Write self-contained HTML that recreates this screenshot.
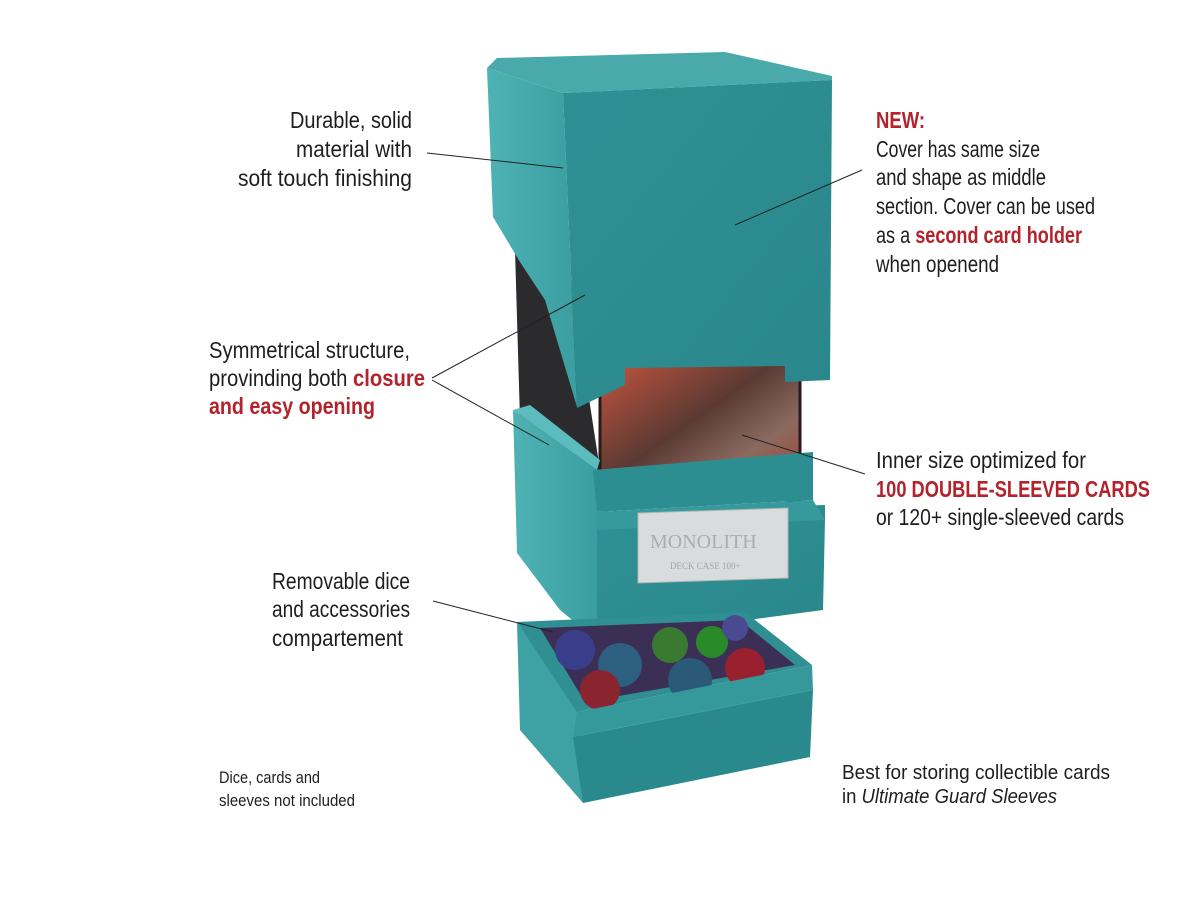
<!DOCTYPE html>
<html><head><meta charset="utf-8"><style>
html,body{margin:0;padding:0;background:#fff;}
svg{display:block;}
text{font-family:"Liberation Sans Narrow","Liberation Sans",sans-serif;fill:#1e1e1e;}
.r{fill:#b3232c;font-weight:bold;}
</style></head><body>
<svg width="1200" height="900" viewBox="0 0 1200 900" xmlns="http://www.w3.org/2000/svg">
<defs>
<linearGradient id="side" x1="0" y1="0" x2="1" y2="0"><stop offset="0" stop-color="#4fb3b5"/><stop offset="1" stop-color="#3a9ea1"/></linearGradient>
<linearGradient id="front" x1="0" y1="0" x2="1" y2="1"><stop offset="0" stop-color="#2f9195"/><stop offset="1" stop-color="#2a878b"/></linearGradient>
<linearGradient id="card" x1="0" y1="0" x2="1" y2="1"><stop offset="0" stop-color="#c8543e"/><stop offset="0.45" stop-color="#5a3a33"/><stop offset="0.7" stop-color="#8a6a60"/><stop offset="1" stop-color="#b03a30"/></linearGradient>
</defs>

<polygon points="515,250 568,262 600,470 560,470 520,420" fill="#2b2b2e"/>
<rect x="600" y="360" width="200" height="140" fill="url(#card)"/>
<rect x="600" y="360" width="200" height="140" fill="none" stroke="#2a1a1a" stroke-width="3"/>
<text x="722" y="484" style="font-size:10px;fill:#fff;font-weight:bold">18/30 Power</text>

<polygon points="513,410 597,470 597,640 560,610 517,553" fill="url(#side)"/>
<polygon points="513,410 530,405 600,460 597,470" fill="#5cbcbd"/>
<polygon points="593,470 813,452 813,500 597,512" fill="#2d8e92"/>
<polygon points="597,512 825,505 825,520 823,610 597,640" fill="url(#front)"/>
<polygon points="597,512 813,500 825,520 597,530" fill="#36999c"/>
<polygon points="638,513 788,508 788,578 638,583" fill="#d8dcdc" stroke="#aeb4b4"/>
<text x="650" y="548" style="font-size:20px;fill:#a8aeae;font-family:'Liberation Serif',serif">MONOLITH</text>
<text x="670" y="569" style="font-size:9px;fill:#a0a6a6;font-family:'Liberation Serif',serif">DECK CASE 100+</text>

<polygon points="487,68 563,93 577,407 545,300 520,262 493,217" fill="url(#side)"/>
<polygon points="487,68 497,58 725,52 832,76 832,80 563,93" fill="#4aa9ab"/>
<path d="M563,93 L832,80 L830,380 L785,382 L785,366 L625,368 L625,385 L577,408 Z" fill="url(#front)"/>

<polygon points="517,622 579,712 583,803 520,730" fill="#3ea2a5"/>
<polygon points="573,737 813,690 810,757 583,803" fill="#2a898d"/>
<polygon points="517,622 745,612 812,665 577,712" fill="#2f8f93"/>
<polygon points="540,628 740,620 795,665 585,702" fill="#3b2f55"/>
<circle cx="575" cy="650" r="20" fill="#3a3e8a"/>
<circle cx="620" cy="665" r="22" fill="#2d5f80"/>
<circle cx="600" cy="690" r="20" fill="#8a2530"/>
<circle cx="670" cy="645" r="18" fill="#3a7a30"/>
<circle cx="712" cy="642" r="16" fill="#2a8a2a"/>
<circle cx="690" cy="680" r="22" fill="#2a5a78"/>
<circle cx="745" cy="668" r="20" fill="#9a2030"/>
<circle cx="735" cy="628" r="13" fill="#4a4a90"/>
<polygon points="577,712 812,665 813,690 573,737" fill="#35989b"/>

<g stroke="#222" stroke-width="1" fill="none">
<line x1="427" y1="153" x2="563" y2="168"/>
<line x1="862" y1="170" x2="735" y2="225"/>
<line x1="432" y1="378" x2="585" y2="295"/>
<line x1="432" y1="380" x2="549" y2="445"/>
<line x1="865" y1="474" x2="742" y2="435"/>
<line x1="433" y1="601" x2="553" y2="632"/>
</g>

<g style="font-size:23px">
<text x="412" y="128" text-anchor="end" textLength="122" lengthAdjust="spacingAndGlyphs">Durable, solid</text>
<text x="412" y="157" text-anchor="end" textLength="116" lengthAdjust="spacingAndGlyphs">material with</text>
<text x="412" y="186" text-anchor="end" textLength="174" lengthAdjust="spacingAndGlyphs">soft touch finishing</text>
<text x="209" y="358" textLength="201" lengthAdjust="spacingAndGlyphs">Symmetrical structure,</text>
<text x="209" y="386" textLength="216" lengthAdjust="spacingAndGlyphs">provinding both <tspan class="r">closure</tspan></text>
<text x="209" y="414" class="r" textLength="166" lengthAdjust="spacingAndGlyphs">and easy opening</text>
<text x="272" y="589" textLength="138" lengthAdjust="spacingAndGlyphs">Removable dice</text>
<text x="272" y="617" textLength="138" lengthAdjust="spacingAndGlyphs">and accessories</text>
<text x="272" y="646" textLength="131" lengthAdjust="spacingAndGlyphs">compartement</text>

<text x="876" y="128" class="r" textLength="49" lengthAdjust="spacingAndGlyphs">NEW:</text>
<text x="876" y="157" textLength="164" lengthAdjust="spacingAndGlyphs">Cover has same size</text>
<text x="876" y="185" textLength="170" lengthAdjust="spacingAndGlyphs">and shape as middle</text>
<text x="876" y="214" textLength="219" lengthAdjust="spacingAndGlyphs">section. Cover can be used</text>
<text x="876" y="243" textLength="206" lengthAdjust="spacingAndGlyphs">as a <tspan class="r">second card holder</tspan></text>
<text x="876" y="272" textLength="123" lengthAdjust="spacingAndGlyphs">when openend</text>
<text x="876" y="468" textLength="210" lengthAdjust="spacingAndGlyphs">Inner size optimized for</text>
<text x="876" y="497" class="r" textLength="274" lengthAdjust="spacingAndGlyphs">100 DOUBLE-SLEEVED CARDS</text>
<text x="876" y="525" textLength="248" lengthAdjust="spacingAndGlyphs">or 120+ single-sleeved cards</text>
</g>
<g style="font-size:17px">
<text x="219" y="783" textLength="101" lengthAdjust="spacingAndGlyphs">Dice, cards and</text>
<text x="219" y="806" textLength="136" lengthAdjust="spacingAndGlyphs">sleeves not included</text>
</g>
<g style="font-size:20px">
<text x="842" y="779" textLength="268" lengthAdjust="spacingAndGlyphs">Best for storing collectible cards</text>
<text x="842" y="803" textLength="215" lengthAdjust="spacingAndGlyphs">in <tspan font-style="italic">Ultimate Guard Sleeves</tspan></text>
</g>
</svg>
</body></html>
